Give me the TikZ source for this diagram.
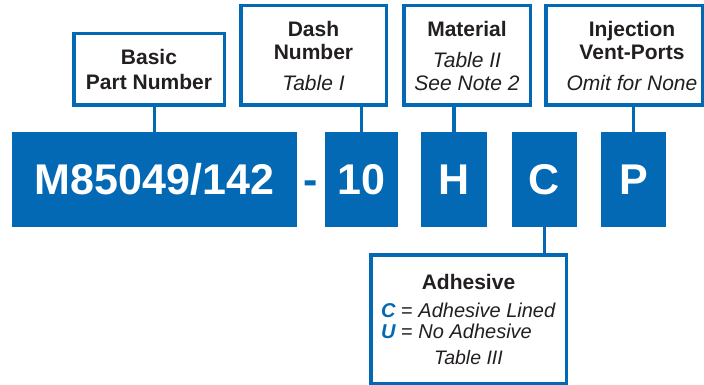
\documentclass[tikz,border=0pt]{standalone}
\usepackage{fontspec}
\setmainfont{Liberation Sans}
\definecolor{pblue}{RGB}{3,105,180}
\definecolor{ptext}{RGB}{35,31,32}
\newcommand{\hd}[1]{\textbf{#1}}
\newcommand{\ital}[1]{\textit{#1}}
\newcommand{\key}[1]{\textcolor{pblue}{\bfseries\itshape #1}}
\begin{document}
\begin{tikzpicture}[x=1pt,y=-1pt,
  lbox/.style={draw=pblue, line width=3.5pt, fill=white, text=ptext, align=center, inner sep=0pt, font=\fontsize{21}{23}\selectfont},
  ltext/.style={text=ptext, align=center, inner sep=0pt, font=\fontsize{21}{23}\selectfont},
  bbox/.style={fill=pblue, text=white, inner sep=0pt, minimum height=95pt, font=\fontsize{43}{43}\selectfont\bfseries},
  conn/.style={draw=pblue, line width=3.5pt}]
\useasboundingbox (0,0) rectangle (704,385);
% blue code boxes
\node[bbox, minimum width=285pt] (mbox) at (154.5,179.5) {M85049/142};
\node[bbox, minimum width=73pt] (nbox) at (361.5,179.5) {10};
\node[bbox, minimum width=66pt] (hbox) at (454,179.5) {H};
\node[bbox, minimum width=65pt] (cbox) at (544.5,179.5) {C};
\node[bbox, minimum width=65pt] (pbox) at (633.5,179.5) {P};
\coordinate (hyx) at (311,0);
\node[anchor=base, inner sep=0pt, text=pblue, font=\fontsize{43}{43}\selectfont\bfseries] (hy) at (mbox.base -| hyx) {-};
% label boxes
\node[lbox, minimum width=150.5pt, minimum height=71.5pt, font=\fontsize{21}{25}\selectfont] (basic) at (149,69.5)
  {\hd{Basic}\\\hd{Part Number}};
\node[lbox, minimum width=145.5pt, minimum height=99.5pt] (dash) at (313.5,55.5)
  {\hd{Dash}\\\hd{Number}\\[8pt]\ital{Table I}};
\node[lbox, minimum width=126.5pt, minimum height=99.5pt] (mat) at (467,55.5)
  {\hd{Material}\\[8pt]\ital{Table II}\\\ital{See Note 2}};
\node[lbox, minimum width=156.5pt, minimum height=99.5pt] (inj) at (624,55.5) {};
\node[ltext] (injt) at (632,55.5)
  {\hd{Injection}\\\hd{Vent-Ports}\\[8pt]\ital{Omit for None}};
\node[lbox, minimum width=195.5pt, minimum height=128.5pt] (adh) at (468.5,319)
  {\hd{Adhesive}\\[5pt]
   {\fontsize{20}{23}\selectfont\key{C} = \ital{Adhesive Lined}}\\[-2pt]
   {\fontsize{20}{23}\selectfont\rlap{\key{U} = \ital{No Adhesive}}\phantom{\key{C} = \ital{Adhesive Lined}}}\\[3pt]
   {\fontsize{19.5}{23}\selectfont\ital{Table III}}};
% connectors
\draw[conn] (mbox.north) -- (mbox.north |- basic.south);
\draw[conn] (nbox.north) -- (nbox.north |- dash.south);
\draw[conn] (hbox.north) -- (hbox.north |- mat.south);
\draw[conn] (pbox.north) -- (pbox.north |- inj.south);
\draw[conn] (cbox.south) -- (cbox.south |- adh.north);
\end{tikzpicture}
\end{document}
